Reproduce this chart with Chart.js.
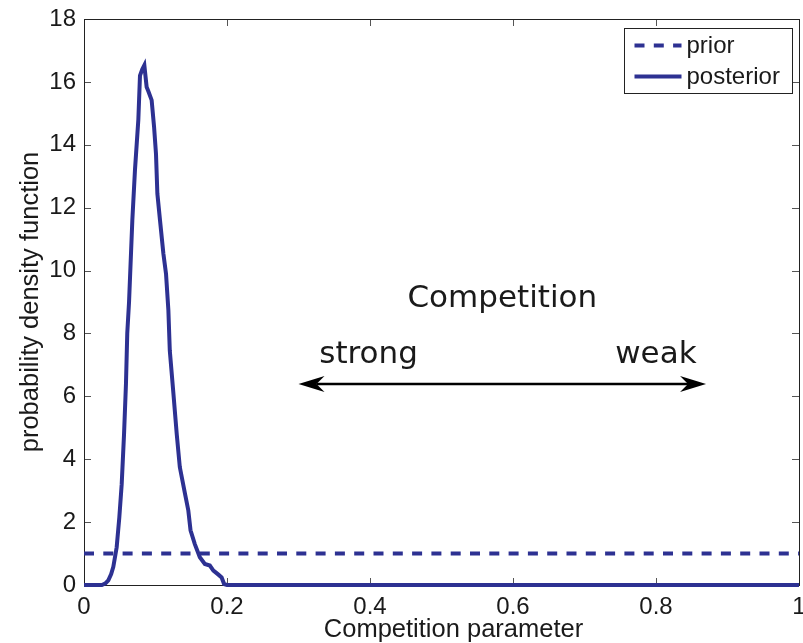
<!DOCTYPE html>
<html>
<head>
<meta charset="utf-8">
<script src="https://cdn.jsdelivr.net/npm/chart.js@4.4.1/dist/chart.umd.min.js"></script>
<style>
html, body { margin: 0; padding: 0; background: #fff; }
#wrap { width: 803px; height: 643px; position: relative; }
</style>
</head>
<body>
<div id="wrap"><canvas id="myChart"></canvas></div>
<script>
// posterior density
var postX = [0, 0.025, 0.030, 0.034, 0.038, 0.041, 0.0457, 0.0494, 0.0527, 0.056, 0.0587, 0.0605,
    0.063, 0.0676, 0.0713, 0.076, 0.0783, 0.0815, 0.0844, 0.0876, 0.090, 0.0946, 0.098, 0.1007,
    0.1026, 0.1063, 0.111, 0.1147, 0.118, 0.120, 0.125, 0.1297, 0.134, 0.1413, 0.1459, 0.149,
    0.155, 0.162, 0.169, 0.176, 0.181, 0.188, 0.1925, 0.196, 0.200, 1];
var postY = [0, 0, 0.05, 0.15, 0.35, 0.58, 1.2, 2.15, 3.2, 4.8, 6.4, 8.0,
    9.0, 11.6, 13.2, 14.8, 16.2, 16.4, 16.53, 15.84, 15.7, 15.42, 14.57, 13.7,
    12.45, 11.6, 10.54, 9.9, 8.74, 7.45, 6.1, 4.8, 3.75, 2.9, 2.37, 1.74,
    1.3, 0.88, 0.67, 0.62, 0.46, 0.33, 0.24, 0.03, 0, 0];
// uniform prior
var priorX = [0, 1];
var priorY = [1, 1];

var xTicks = [0, 0.2, 0.4, 0.6, 0.8, 1];
var yTicks = [0, 2, 4, 6, 8, 10, 12, 14, 16, 18];
var seriesNames = ['prior', 'posterior'];
var xTitle = 'Competition parameter';
var yTitle = 'probability density function';
var noteTitle = 'Competition';
var noteLeft = 'strong';
var noteRight = 'weak';

var blue = '#2d3192';
var ink = '#1a1a1a';
var tickFont = { family: 'Liberation Sans', size: 24 };
var titleFont = { family: 'Liberation Sans', size: 25.5 };
var noteFont = '31px "DejaVu Sans"';

function toPoints(xs, ys){
    return xs.map(function(x, i){ return { x: x, y: ys[i] }; });
}
function shortNum(v){
    return String(+v.toFixed(2));
}

// matlab-ish frame with inward ticks, arrow + labels, legend
var decor = {
    id: 'decor',
    beforeDatasetsDraw: function(chart){
        var c = chart.ctx, a = chart.chartArea;
        var sx = chart.scales.x, sy = chart.scales.y;
        c.save();
        c.strokeStyle = '#555';
        c.lineWidth = 1;
        c.beginPath();
        xTicks.forEach(function(v){
            var px = Math.round(sx.getPixelForValue(v)) + 0.5;
            c.moveTo(px, a.bottom); c.lineTo(px, a.bottom - 7);
            c.moveTo(px, a.top); c.lineTo(px, a.top + 7);
        });
        yTicks.forEach(function(v){
            var py = Math.round(sy.getPixelForValue(v)) + 0.5;
            c.moveTo(a.left, py); c.lineTo(a.left + 7, py);
            c.moveTo(a.right, py); c.lineTo(a.right - 7, py);
        });
        c.stroke();
        c.strokeStyle = '#222';
        c.strokeRect(Math.round(a.left) + 0.5, Math.round(a.top) + 0.5,
            Math.round(a.right - a.left), Math.round(a.bottom - a.top));
        c.restore();
    },
    afterDatasetsDraw: function(chart){
        var c = chart.ctx, a = chart.chartArea;
        var sx = chart.scales.x, sy = chart.scales.y;
        c.save();

        // annotation
        c.fillStyle = ink;
        c.font = noteFont;
        c.textBaseline = 'alphabetic';
        c.textAlign = 'center';
        c.fillText(noteTitle, sx.getPixelForValue(0.585), sy.getPixelForValue(8.83));
        c.textAlign = 'left';
        c.fillText(noteLeft, sx.getPixelForValue(0.329), sy.getPixelForValue(7.05));
        c.fillText(noteRight, sx.getPixelForValue(0.743), sy.getPixelForValue(7.05));

        var x0 = sx.getPixelForValue(0.3), x1 = sx.getPixelForValue(0.87);
        var ay = Math.round(sy.getPixelForValue(6.4));
        var L = 26, W = 8, N = 18;
        c.strokeStyle = '#000';
        c.lineWidth = 2.6;
        c.beginPath();
        c.moveTo(x0 + N, ay); c.lineTo(x1 - N, ay);
        c.stroke();
        c.fillStyle = '#000';
        c.beginPath();
        c.moveTo(x0, ay); c.lineTo(x0 + L, ay - W); c.lineTo(x0 + N, ay); c.lineTo(x0 + L, ay + W);
        c.closePath(); c.fill();
        c.beginPath();
        c.moveTo(x1, ay); c.lineTo(x1 - L, ay - W); c.lineTo(x1 - N, ay); c.lineTo(x1 - L, ay + W);
        c.closePath(); c.fill();

        // legend box
        var bx = Math.round(a.right - 175) + 0.5, by = Math.round(a.top + 9) + 0.5;
        var bw = 168, bh = 65;
        c.fillStyle = '#fff';
        c.fillRect(bx, by, bw, bh);
        c.strokeStyle = '#222';
        c.lineWidth = 1;
        c.strokeRect(bx, by, bw, bh);
        chart.data.datasets.forEach(function(ds, i){
            var ly = by + 17 + i * 31;
            c.strokeStyle = ds.borderColor;
            c.lineWidth = ds.borderWidth;
            c.setLineDash(ds.borderDash || []);
            c.beginPath();
            c.moveTo(bx + 10, ly); c.lineTo(bx + 57, ly);
            c.stroke();
            c.setLineDash([]);
            c.fillStyle = ink;
            c.font = '24px "Liberation Sans"';
            c.textAlign = 'left';
            c.textBaseline = 'middle';
            c.fillText(ds.label, bx + 62, ly + 1);
        });

        // x axis title
        c.fillStyle = ink;
        c.font = '25.5px "Liberation Sans"';
        c.textAlign = 'center';
        c.textBaseline = 'alphabetic';
        c.fillText(xTitle, (a.left + a.right) / 2 + 12, a.bottom + 52);
        c.restore();
    }
};

var ctx = document.getElementById('myChart');
var myChart = new Chart(ctx, {
    type: 'line',
    data: {
        datasets: [{
            label: seriesNames[0],
            data: toPoints(priorX, priorY),
            borderColor: blue,
            borderWidth: 4,
            borderDash: [10, 9.3],
            pointRadius: 0,
            fill: false,
            clip: false
        }, {
            label: seriesNames[1],
            data: toPoints(postX, postY),
            borderColor: blue,
            borderWidth: 4,
            pointRadius: 0,
            fill: false,
            clip: false
        }]
    },
    options: {
        responsive: true,
        maintainAspectRatio: false,
        animation: false,
        layout: { padding: { top: 19, right: 4, left: 0, bottom: 0 } },
        plugins: {
            legend: { display: false },
            tooltip: { enabled: false }
        },
        scales: {
            x: {
                type: 'linear',
                min: 0,
                max: 1,
                afterBuildTicks: function(s){ s.ticks = xTicks.map(function(v){ return { value: v }; }); },
                grid: { display: false, drawTicks: false },
                border: { display: false },
                ticks: { font: tickFont, color: ink, padding: 8, maxRotation: 0, autoSkip: false, callback: shortNum },
                afterFit: function(s){ s.height = 58; s.paddingLeft = 0; s.paddingRight = 0; }
            },
            y: {
                type: 'linear',
                min: 0,
                max: 18,
                afterBuildTicks: function(s){ s.ticks = yTicks.map(function(v){ return { value: v }; }); },
                grid: { display: false, drawTicks: false },
                border: { display: false },
                ticks: { font: tickFont, color: ink, padding: 8, callback: shortNum },
                title: { display: true, text: yTitle, font: titleFont, color: ink, padding: { top: 16, bottom: 0 } },
                afterFit: function(s){ s.width = 84; s.paddingTop = 0; s.paddingBottom = 0; }
            }
        }
    },
    plugins: [decor]
});
</script>
</body>
</html>
